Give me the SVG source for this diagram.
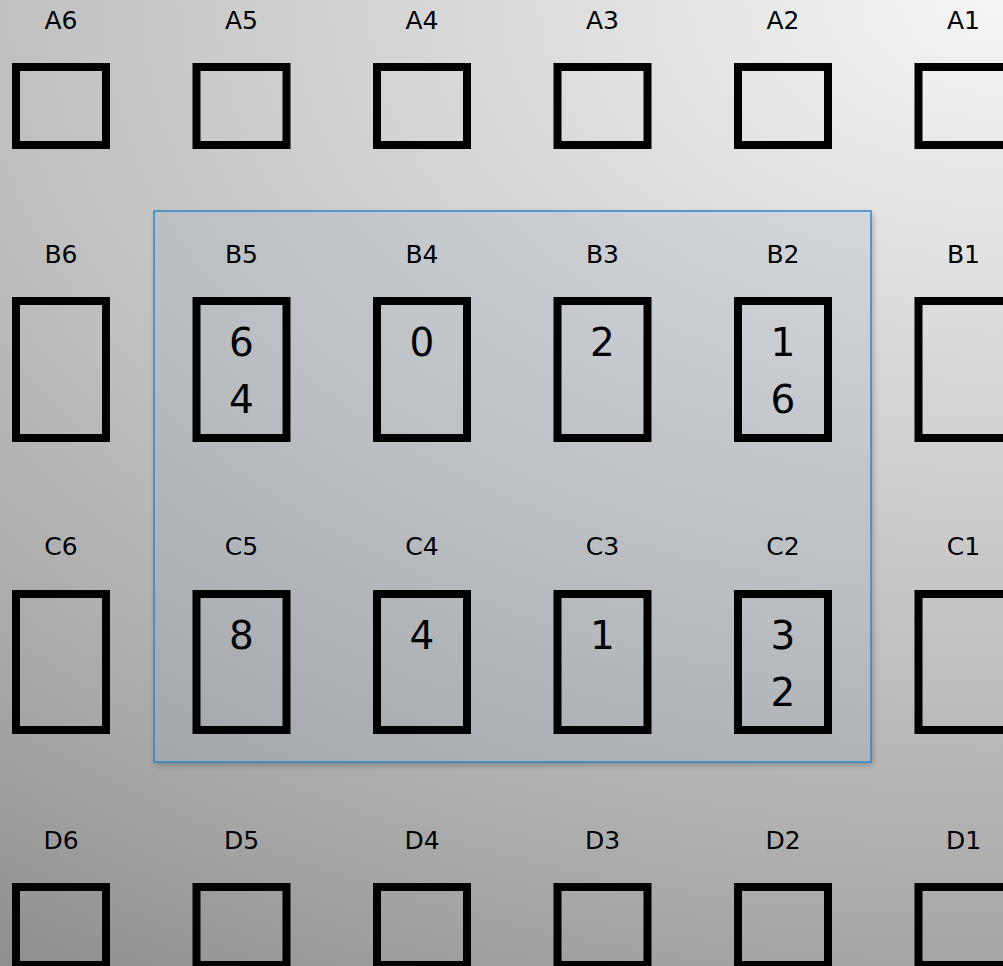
<svg xmlns="http://www.w3.org/2000/svg" width="1003" height="966" viewBox="0 0 1003 966">
<defs>
<radialGradient id="bg" gradientUnits="userSpaceOnUse" cx="1003" cy="0" r="1800" gradientTransform="scale(1,0.6627)">
<stop offset="0" stop-color="#f5f5f5"/>
<stop offset="0.557" stop-color="#c0c0c0"/>
<stop offset="0.81" stop-color="#a5a5a5"/>
<stop offset="1" stop-color="#8c8c8c"/>
</radialGradient>
<filter id="blur" x="-10%" y="-10%" width="120%" height="120%"><feGaussianBlur stdDeviation="3"/></filter>
<mask id="outside" maskUnits="userSpaceOnUse" x="0" y="0" width="1003" height="966">
<rect x="0" y="0" width="1003" height="966" fill="#fff"/>
<rect x="154" y="211" width="717" height="551" fill="#000"/>
</mask>
<style>
.box{fill:none;stroke:#000;stroke-width:8}
.lbl{font-family:"DejaVu Sans","Liberation Sans",sans-serif;font-size:25px;fill:#000;text-anchor:middle}
.num{font-family:"DejaVu Sans","Liberation Sans",sans-serif;font-size:39px;fill:#000;text-anchor:middle}
.panel{fill:rgb(150,165,190);fill-opacity:0.2;stroke:#2e86c8;stroke-width:1.5}
</style>
</defs>
<rect x="0" y="0" width="1003" height="966" fill="url(#bg)"/>
<g id="panel">
<rect x="156" y="214" width="717" height="551" fill="#000" opacity="0.25" filter="url(#blur)" mask="url(#outside)"/>
<rect class="panel" x="154" y="211" width="717" height="551"/>
</g>
<g id="rowA">
<g id="A6"><text class="lbl" x="61" y="29">A6</text><rect class="box" x="16" y="67" width="90" height="78"/></g>
<g id="A5"><text class="lbl" x="241.5" y="29">A5</text><rect class="box" x="196.5" y="67" width="90" height="78"/></g>
<g id="A4"><text class="lbl" x="422" y="29">A4</text><rect class="box" x="377" y="67" width="90" height="78"/></g>
<g id="A3"><text class="lbl" x="602.5" y="29">A3</text><rect class="box" x="557.5" y="67" width="90" height="78"/></g>
<g id="A2"><text class="lbl" x="783" y="29">A2</text><rect class="box" x="738" y="67" width="90" height="78"/></g>
<g id="A1"><text class="lbl" x="963.5" y="29">A1</text><rect class="box" x="918.5" y="67" width="90" height="78"/></g>
</g>
<g id="rowB">
<g id="B6"><text class="lbl" x="61" y="263">B6</text><rect class="box" x="16" y="301" width="90" height="137"/></g>
<g id="B5"><text class="lbl" x="241.5" y="263">B5</text><rect class="box" x="196.5" y="301" width="90" height="137"/><text class="num" x="241.5" y="356">6</text><text class="num" x="241.5" y="413">4</text></g>
<g id="B4"><text class="lbl" x="422" y="263">B4</text><rect class="box" x="377" y="301" width="90" height="137"/><text class="num" x="422" y="356">0</text></g>
<g id="B3"><text class="lbl" x="602.5" y="263">B3</text><rect class="box" x="557.5" y="301" width="90" height="137"/><text class="num" x="602.5" y="356">2</text></g>
<g id="B2"><text class="lbl" x="783" y="263">B2</text><rect class="box" x="738" y="301" width="90" height="137"/><text class="num" x="783" y="356">1</text><text class="num" x="783" y="413">6</text></g>
<g id="B1"><text class="lbl" x="963.5" y="263">B1</text><rect class="box" x="918.5" y="301" width="90" height="137"/></g>
</g>
<g id="rowC">
<g id="C6"><text class="lbl" x="61" y="555">C6</text><rect class="box" x="16" y="594" width="90" height="136"/></g>
<g id="C5"><text class="lbl" x="241.5" y="555">C5</text><rect class="box" x="196.5" y="594" width="90" height="136"/><text class="num" x="241.5" y="649">8</text></g>
<g id="C4"><text class="lbl" x="422" y="555">C4</text><rect class="box" x="377" y="594" width="90" height="136"/><text class="num" x="422" y="649">4</text></g>
<g id="C3"><text class="lbl" x="602.5" y="555">C3</text><rect class="box" x="557.5" y="594" width="90" height="136"/><text class="num" x="602.5" y="649">1</text></g>
<g id="C2"><text class="lbl" x="783" y="555">C2</text><rect class="box" x="738" y="594" width="90" height="136"/><text class="num" x="783" y="649">3</text><text class="num" x="783" y="706">2</text></g>
<g id="C1"><text class="lbl" x="963.5" y="555">C1</text><rect class="box" x="918.5" y="594" width="90" height="136"/></g>
</g>
<g id="rowD">
<g id="D6"><text class="lbl" x="61" y="849">D6</text><rect class="box" x="16" y="887" width="90" height="78"/></g>
<g id="D5"><text class="lbl" x="241.5" y="849">D5</text><rect class="box" x="196.5" y="887" width="90" height="78"/></g>
<g id="D4"><text class="lbl" x="422" y="849">D4</text><rect class="box" x="377" y="887" width="90" height="78"/></g>
<g id="D3"><text class="lbl" x="602.5" y="849">D3</text><rect class="box" x="557.5" y="887" width="90" height="78"/></g>
<g id="D2"><text class="lbl" x="783" y="849">D2</text><rect class="box" x="738" y="887" width="90" height="78"/></g>
<g id="D1"><text class="lbl" x="963.5" y="849">D1</text><rect class="box" x="918.5" y="887" width="90" height="78"/></g>
</g>
<g id="connectors"/>
</svg>
